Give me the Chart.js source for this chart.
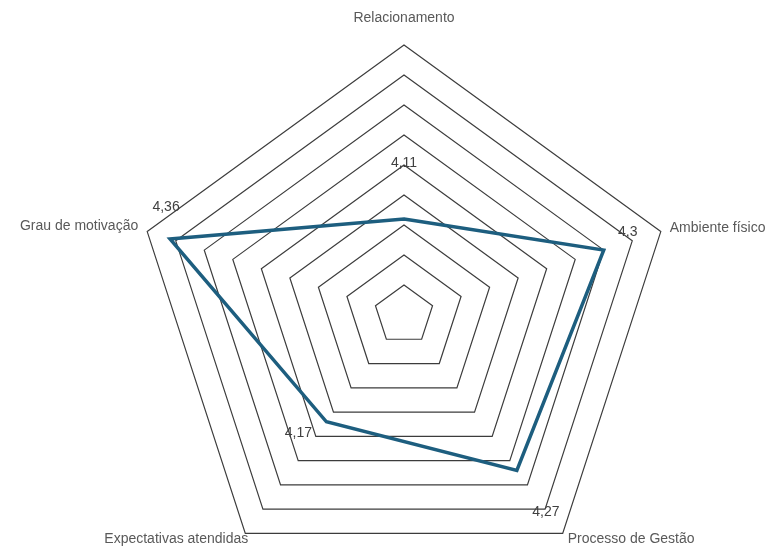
<!DOCTYPE html>
<html>
<head>
<meta charset="utf-8">
<script src="https://cdn.jsdelivr.net/npm/chart.js@4/dist/chart.umd.min.js"></script>
<style>
  html, body { margin: 0; padding: 0; background: #fff; overflow: hidden; }
  #wrap { width: 775px; height: 546px; }
</style>
</head>
<body>
<div id="wrap"><canvas id="radar"></canvas></div>
<script>
const categories = ["Relacionamento", "Ambiente físico", "Processo de Gestão", "Expectativas atendidas", "Grau de motivação"];
const scores = [4.11, 4.3, 4.27, 4.17, 4.36];
const scaleMin = 3.95;
const scaleMax = 4.4;
const scaleStep = 0.05;

// where each label sits relative to its point / outer vertex
const valueLabelOffsets = [[0, -56], [24, -18], [29, 42], [-28, 11], [-4, -32]];
const axisLabelPlacement = [
  { dx: 0, dy: -27, align: "center" },
  { dx: 9, dy: -3, align: "left" },
  { dx: 5, dy: 6, align: "left" },
  { dx: 3, dy: 6, align: "right" },
  { dx: -9, dy: -5, align: "right" }
];

const labelsPlugin = {
  id: "radarLabels",
  afterDatasetsDraw(chart) {
    const ctx = chart.ctx;
    const scale = chart.scales.r;
    const meta = chart.getDatasetMeta(0);
    ctx.save();
    ctx.font = "14px 'Liberation Sans', Arial, sans-serif";
    ctx.textBaseline = "middle";

    // axis names beside the outer ring
    ctx.fillStyle = "#595959";
    categories.forEach((name, i) => {
      const p = scale.getPointPositionForValue(i, scaleMax);
      const pl = axisLabelPlacement[i];
      ctx.textAlign = pl.align;
      ctx.fillText(name, p.x + pl.dx, p.y + pl.dy);
    });

    // value labels
    ctx.fillStyle = "#404040";
    ctx.textAlign = "center";
    meta.data.forEach((pt, i) => {
      const off = valueLabelOffsets[i];
      ctx.fillText(scores[i].toString().replace(".", ","), pt.x + off[0], pt.y + off[1]);
    });
    ctx.restore();
  }
};

new Chart(document.getElementById("radar"), {
  type: "radar",
  data: {
    labels: categories,
    datasets: [{
      data: scores,
      borderColor: "#1d5e7f",
      borderWidth: 3.5,
      backgroundColor: "rgba(0,0,0,0)",
      fill: false,
      pointRadius: 0,
      pointHoverRadius: 0,
      tension: 0
    }]
  },
  options: {
    responsive: true,
    maintainAspectRatio: false,
    animation: false,
    plugins: {
      legend: { display: false },
      tooltip: { enabled: false }
    },
    scales: {
      r: {
        min: scaleMin,
        max: scaleMax,
        beginAtZero: false,
        ticks: { display: false, stepSize: scaleStep },
        grid: { color: "#3c3c3c", lineWidth: 1.2 },
        angleLines: { display: false },
        pointLabels: { display: false },
        afterFit(scale) {
          scale.xCenter = 404;
          scale.yCenter = 315;
          scale.drawingArea = 270;
        }
      }
    }
  },
  plugins: [labelsPlugin]
});
</script>
</body>
</html>
